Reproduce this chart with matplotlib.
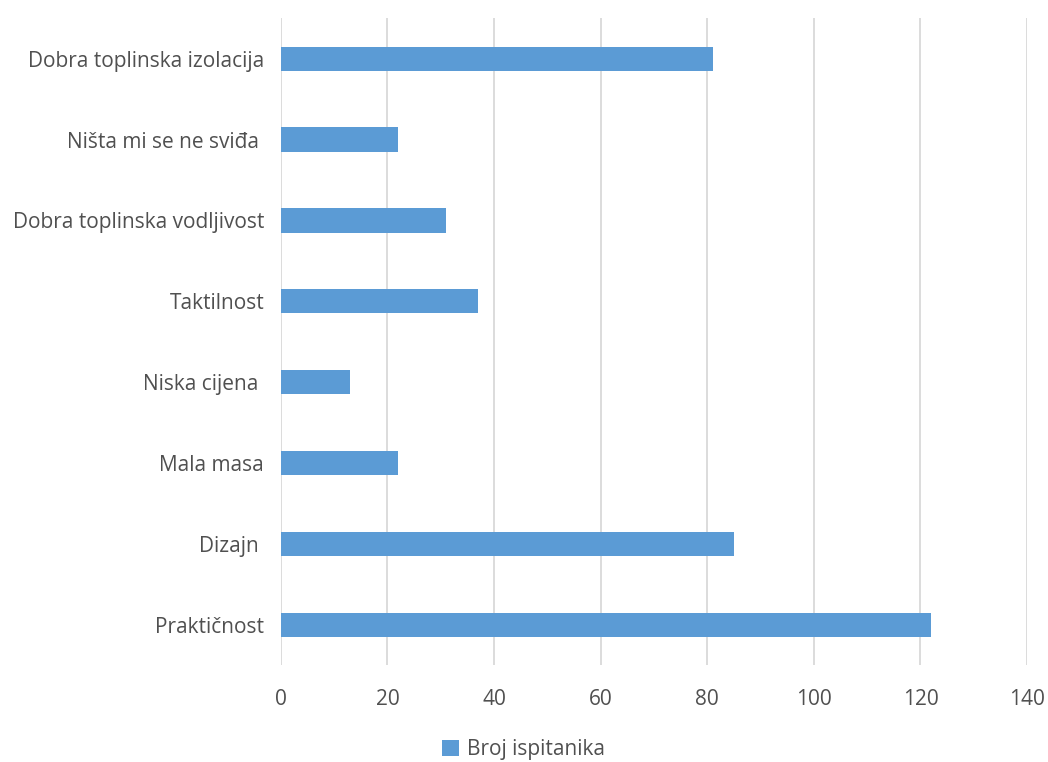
import matplotlib.pyplot as plt

# categories from bottom to top
categories = ['Praktičnost', 'Dizajn ', 'Mala masa', 'Niska cijena ', 'Taktilnost',
              'Dobra toplinska vodljivost', 'Ništa mi se ne sviđa ', 'Dobra toplinska izolacija']
values = [122, 85, 22, 13, 37, 31, 22, 81]
series_name = 'Broj ispitanika'
xticks = [0, 20, 40, 60, 80, 100, 120, 140]

plt.rcParams['font.family'] = ['Open Sans', 'DejaVu Sans']
text_color = '#505050'

fig = plt.figure(figsize=(10.48, 7.62), dpi=100)
ax = fig.add_axes([0.268, 0.127, 0.712, 0.849])

ax.barh(range(len(categories)), values, height=0.3, color='#5B9BD5', label=series_name, zorder=3)

ax.set_xlim(0, 140)
ax.set_ylim(-0.5, len(categories) - 0.5)
ax.set_xticks(xticks)
ax.set_yticks(range(len(categories)))
ax.set_yticklabels(categories)
ax.grid(axis='x', color='#D9D9D9', linewidth=1.3, zorder=0)
for s in ax.spines.values():
    s.set_visible(False)
ax.tick_params(axis='both', length=0, labelsize=15, labelcolor=text_color)
ax.tick_params(axis='x', pad=17)
ax.tick_params(axis='y', pad=12)

fig.legend(loc='lower center', bbox_to_anchor=(0.5, -0.022), frameon=False,
           fontsize=15, handlelength=0.8, handleheight=0.8, handletextpad=0.4,
           labelcolor=text_color)

fig.savefig('out.png', dpi=100)
